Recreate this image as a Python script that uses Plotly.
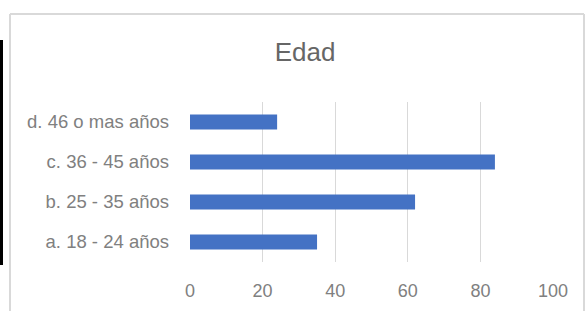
import plotly.graph_objects as go

categories = ["a. 18 - 24 años", "b. 25 - 35 años", "c. 36 - 45 años", "d. 46 o mas años"]
values = [35, 62, 84, 24]
x_ticks = [0, 20, 40, 60, 80, 100]

W, H = 586, 311
L, R, T, B = 190, 33, 102, 49
pw, ph = W - L - R, H - T - B

def px(x):
    return (x - L) / pw

def py(y):
    return (H - B - y) / ph

fig = go.Figure(go.Bar(
    y=categories, x=values, orientation="h",
    marker=dict(color="#4472C4", line=dict(width=0)),
))

font_family = "Liberation Sans, Arial, sans-serif"

fig.update_layout(
    width=W, height=H,
    margin=dict(l=L, r=R, t=T, b=B, pad=0, autoexpand=False),
    paper_bgcolor="white", plot_bgcolor="white",
    bargap=0.625,
    showlegend=False,
    title=dict(text="Edad", x=px(305), xref="paper", xanchor="center",
               y=1 - 52 / H, yanchor="middle",
               font=dict(family=font_family, size=26, color="#666666")),
    xaxis=dict(range=[0, 100], tickvals=x_ticks, showgrid=True,
               gridcolor="#d9d9d9", gridwidth=1, zeroline=False,
               showline=False, ticks="", ticklabelstandoff=16, automargin=False,
               tickfont=dict(family=font_family, size=18, color="#808080")),
    yaxis=dict(showgrid=False, showline=False, ticks="", automargin=False,
               ticklabelstandoff=20,
               tickfont=dict(family=font_family, size=18.5, color="#808080")),
    shapes=[
        dict(type="line", xref="paper", yref="paper",
             x0=px(10), x1=px(584), y0=py(14), y1=py(14),
             line=dict(color="#d9d9d9", width=2)),
        dict(type="line", xref="paper", yref="paper",
             x0=px(10), x1=px(10), y0=py(14), y1=py(315),
             line=dict(color="#d9d9d9", width=2)),
        dict(type="line", xref="paper", yref="paper",
             x0=px(584), x1=px(584), y0=py(14), y1=py(315),
             line=dict(color="#d9d9d9", width=2)),
        dict(type="rect", xref="paper", yref="paper",
             x0=px(0), x1=px(3), y0=py(265), y1=py(40),
             fillcolor="black", line=dict(width=0)),
    ],
)

fig.write_html("out.html", config={"displayModeBar": False},
               post_script="document.body.style.margin='0';document.body.style.overflow='hidden';")
